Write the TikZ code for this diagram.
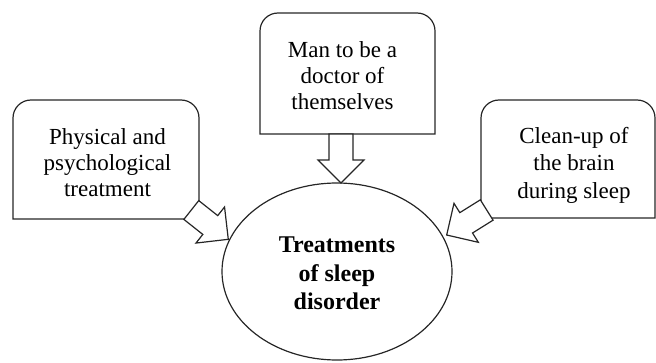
\documentclass[tikz,border=0pt]{standalone}
\usepackage{fontspec}
\setmainfont{Liberation Serif}
\newfontfamily\tnr{Liberation Serif}
\usetikzlibrary{calc}
\tikzset{
  line/.style={draw=black!85, line width=1.2pt},
  boxshape/.style={inner sep=0pt, outer sep=0pt},
  boxtext/.style={align=center, inner sep=0pt, font=\tnr\fontsize{23}{26}\selectfont},
}
\newcommand\topbox[1]{%
  \draw[line] (#1.south west) -- ([yshift=-18pt]#1.north west)
    arc[start angle=180, end angle=90, radius=18pt]
    -- ([xshift=-18pt]#1.north east)
    arc[start angle=90, end angle=0, radius=18pt]
    -- (#1.south east) -- cycle;}
% block arrow: #1 base coordinate, #2 angle, #3 length
\newcommand\blockarr[3]{%
  \begin{scope}[shift={(#1)}, rotate=#2]
    \draw[line, fill=white, line join=miter] (0,-12) -- (#3-23,-12) -- (#3-23,-23) -- (#3,0)
      -- (#3-23,23) -- (#3-23,12) -- (0,12) -- cycle;
  \end{scope}}
\begin{document}
\begin{tikzpicture}[x=1pt, y=1pt]
\useasboundingbox (0,0) rectangle (656,362);
% boxes
\node[boxshape, minimum width=186pt, minimum height=119pt] (lbox) at (106,202.5) {};
\node[boxshape, minimum width=175pt, minimum height=121pt] (cbox) at (347.5,288.5) {};
\node[boxshape, minimum width=174pt, minimum height=118pt] (rbox) at (568,203) {};
\topbox{lbox}
\topbox{cbox}
\topbox{rbox}
\node[boxtext] (ltext) at (107.5,199) {Physical and\\psychological\\treatment};
\node[boxtext] (ctext) at (342.5,286) {Man to be a\\doctor of\\themselves};
\node[boxtext, font=\tnr\fontsize{23}{27.5}\selectfont] (rtext) at (574,197) {Clean-up of\\the brain\\during sleep};
% ellipse
\draw[line] (337,90.5) ellipse[x radius=115pt, y radius=88.5pt];
\node[align=center, inner sep=0pt, font=\tnr\bfseries\fontsize{24}{28.5}\selectfont] (ell) at (337,88.5) {Treatments\\of sleep\\disorder};
% arrows
\coordinate (lb) at (191.3,152);
\coordinate (rb) at (486.7,152);
\coordinate (cb) at (341,228);
\blockarr{lb}{-38.4}{47.2}
\blockarr{rb}{212}{47.2}
\blockarr{cb}{-90}{49}
\end{tikzpicture}
\end{document}
